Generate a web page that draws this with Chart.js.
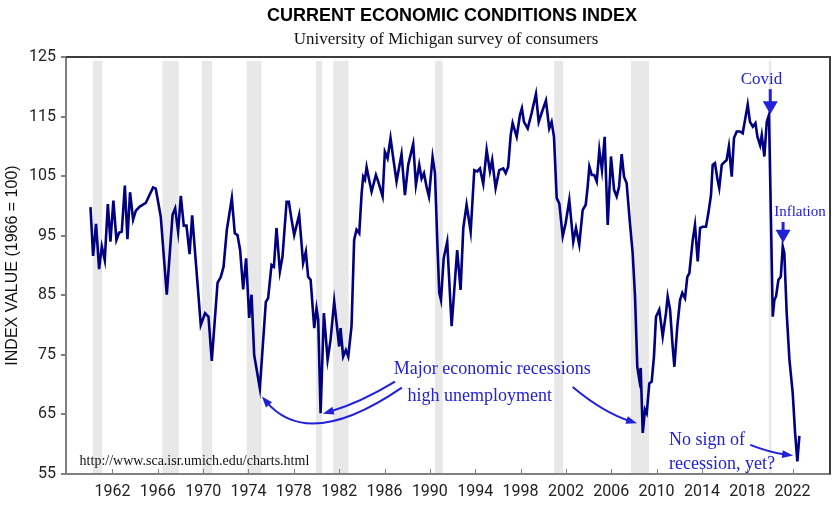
<!DOCTYPE html>
<html lang="en">
<head>
  <meta charset="UTF-8"/>
  <title>Current Economic Conditions Index</title>
  <script src="https://cdn.jsdelivr.net/npm/chart.js"></script>
  <style>
    html, body { margin: 0; padding: 0; background: #fff; }
    #wrap { width: 835px; height: 511px; }
  </style>
</head>
<body>
  <div id="wrap"><canvas id="chart"></canvas></div>

  <script>
    // index values (fractional year, value)
    const years = [
      1960.06,1960.29,1960.55,1960.82,1961.06,1961.32,1961.59,1961.82,1962.08,1962.35,
      1962.58,1962.82,1963.09,1963.32,1963.55,1963.82,1964.06,1964.41,1964.94,1965.58,
      1965.82,1966.26,1966.79,1967.30,1967.53,1967.79,1968.03,1968.29,1968.53,1968.80,
      1969.03,1969.50,1969.79,1970.17,1970.47,1970.76,1971.27,1971.56,1971.80,1972.09,
      1972.53,1972.79,1973.03,1973.26,1973.53,1973.79,1974.06,1974.27,1974.50,1975.00,
      1975.53,1975.73,1976.03,1976.24,1976.47,1976.77,1977.00,1977.36,1977.56,1977.80,
      1978.03,1978.47,1978.82,1979.06,1979.26,1979.48,1979.80,1980.00,1980.15,1980.36,
      1980.65,1980.98,1981.24,1981.56,1981.82,1982.00,1982.12,1982.35,1982.59,1982.80,
      1983.09,1983.32,1983.53,1983.77,1983.98,1984.12,1984.27,1984.42,1984.64,1984.86,
      1985.24,1985.44,1985.83,1986.03,1986.27,1986.53,1986.77,1987.06,1987.50,1987.80,
      1988.09,1988.53,1988.77,1989.06,1989.27,1989.48,1989.71,1989.92,1990.24,1990.45,
      1990.65,1990.83,1990.98,1991.22,1991.53,1991.92,1992.41,1992.71,1992.95,1993.24,
      1993.60,1993.92,1994.18,1994.42,1994.71,1995.01,1995.30,1995.50,1995.80,1996.12,
      1996.47,1996.69,1996.91,1997.13,1997.30,1997.66,1997.95,1998.12,1998.30,1998.63,
      1998.98,1999.36,1999.60,1999.86,2000.24,2000.53,2000.74,2000.95,2001.19,2001.42,
      2001.72,2001.98,2002.30,2002.65,2002.89,2003.18,2003.48,2003.75,2003.92,2004.07,
      2004.28,2004.50,2004.72,2004.95,2005.18,2005.42,2005.69,2005.98,2006.25,2006.48,
      2006.69,2006.92,2007.13,2007.36,2007.65,2007.89,2008.10,2008.30,2008.48,2008.60,
      2008.78,2008.98,2009.13,2009.36,2009.57,2009.77,2009.95,2010.24,2010.54,2010.83,
      2010.98,2011.19,2011.42,2011.57,2011.83,2012.07,2012.27,2012.51,2012.71,2012.89,
      2013.19,2013.39,2013.63,2013.84,2014.07,2014.36,2014.57,2014.80,2014.95,2015.15,
      2015.36,2015.53,2015.75,2015.95,2016.18,2016.38,2016.63,2016.83,2017.07,2017.36,
      2017.60,2017.80,2018.04,2018.24,2018.49,2018.72,2018.90,2019.13,2019.28,2019.51,
      2019.72,2019.92,2020.25,2020.39,2020.54,2020.75,2020.96,2021.13,2021.27,2021.48,
      2021.72,2022.01,2022.22,2022.42,2022.60
    ];
    const values = [
      99.8,91.6,97.0,89.4,93.2,90.9,100.3,94.0,100.9,94.3,
      95.5,95.7,103.4,94.4,102.3,97.7,99.2,99.9,100.5,103.1,
      102.9,98.2,85.1,98.5,99.6,95.7,101.7,96.7,96.7,91.9,
      98.4,87.0,80.0,82.0,81.4,74.0,87.1,88.1,89.8,96.0,
      101.3,95.4,95.1,92.6,86.0,91.2,81.2,85.1,75.0,69.4,
      83.9,84.5,90.1,89.8,96.3,89.0,91.5,100.7,100.7,97.7,
      95.1,98.5,90.4,92.3,88.1,87.6,79.5,82.8,80.9,65.2,
      82.0,74.2,77.5,84.0,79.5,76.4,79.5,74.7,75.8,74.7,
      79.8,94.3,96.0,95.4,102.1,104.9,104.4,106.5,104.4,102.4,
      105.2,104.1,101.6,109.1,108.0,111.4,108.0,104.1,108.7,101.8,
      106.9,110.4,103.5,106.9,104.6,105.5,103.2,101.6,108.2,105.5,
      94.3,85.4,84.2,91.2,94.0,79.8,92.6,85.9,96.3,100.2,
      95.7,106.0,105.8,106.3,103.7,109.4,105.8,107.7,103.0,106.0,
      106.3,105.5,106.6,111.9,113.9,111.6,115.3,116.4,114.1,113.0,
      115.6,118.8,114.1,115.6,117.7,113.0,114.1,111.6,101.3,100.4,
      94.9,97.1,101.0,94.0,96.3,93.5,99.3,100.2,103.2,106.6,
      105.2,105.2,104.1,109.4,106.0,111.6,96.8,108.3,102.7,101.6,
      103.2,108.7,104.9,103.8,97.1,92.1,84.8,73.0,70.8,72.8,
      61.9,65.8,65.2,70.2,70.5,74.7,81.4,82.6,78.1,82.0,
      84.8,82.6,76.4,73.0,79.8,84.2,85.4,84.5,88.1,88.7,
      94.3,96.8,90.7,96.3,96.5,96.5,98.8,101.8,106.9,107.2,
      104.6,103.0,106.9,107.3,107.7,110.0,104.9,111.4,112.5,112.5,
      112.2,114.4,117.0,114.1,113.3,113.9,111.6,110.2,111.9,108.3,
      114.1,115.3,81.4,84.2,84.8,87.6,88.1,93.2,92.1,82.0,
      74.2,68.6,61.9,57.1,61.4
    ];

    // recession bands (start / end year)
    const recStart = [1960.27, 1966.40, 1969.90, 1973.85, 1979.95, 1981.47, 1990.45, 2000.97, 2007.74, 2019.90];
    const recEnd   = [1961.10, 1967.85, 1970.80, 1975.15, 1980.50, 1982.83, 1991.13, 2001.77, 2009.33, 2020.13];

    const xTicks = [1962,1966,1970,1974,1978,1982,1986,1990,1994,1998,2002,2006,2010,2014,2018,2022];
    const yTicks = [55,65,75,85,95,105,115,125];

    const blue = '#2121d9';

    // notes, placed in data units
    const notes = [
      { text: 'Covid', x: 2019.25, y: 121.2, size: 17, align: 'center' },
      { text: 'Inflation', x: 2022.65, y: 99.0, size: 15, align: 'center' },
      { text: 'Major economic recessions', x: 1995.5, y: 72.5, size: 18, align: 'center' },
      { text: 'high unemployment', x: 1994.4, y: 68.1, size: 18, align: 'center' },
      { text: 'No sign of', x: 2011.1, y: 60.7, size: 18, align: 'left' },
      { text: 'recession, yet?', x: 2011.1, y: 56.6, size: 18, align: 'left' }
    ];
    // curved arrows: start, control, tip
    const curves = [
      [[1986.92, 70.5], [1983.9, 67.0], [1980.56, 65.1]],
      [[1987.53, 69.5], [1979.3, 58.8], [1975.18, 68.0]],
      [[2002.6, 69.6], [2005.3, 65.3], [2008.28, 63.5]],
      [[2018.26, 59.9], [2020.0, 58.6], [2022.05, 58.1]]
    ];
    // straight down arrows: x, from, to
    const drops = [
      [2020.03, 119.6, 115.4],
      [2021.16, 97.3, 93.8]
    ];

    function head(ctx, tx, ty, ang, len, wid) {
      ctx.beginPath();
      ctx.moveTo(tx, ty);
      ctx.lineTo(tx - len * Math.cos(ang) + wid / 2 * Math.sin(ang), ty - len * Math.sin(ang) - wid / 2 * Math.cos(ang));
      ctx.lineTo(tx - len * Math.cos(ang) - wid / 2 * Math.sin(ang), ty - len * Math.sin(ang) + wid / 2 * Math.cos(ang));
      ctx.closePath();
      ctx.fill();
    }

    const decor = {
      id: 'decor',
      beforeDatasetsDraw(chart) {
        const { ctx, chartArea: a, scales: { x, y } } = chart;
        ctx.save();
        ctx.fillStyle = '#e8e8e8';
        const top = y.getPixelForValue(124.35);
        recStart.forEach((s, i) => {
          const x0 = x.getPixelForValue(s), x1 = x.getPixelForValue(recEnd[i]);
          ctx.fillRect(x0, top, x1 - x0, a.bottom - 1 - top);
        });
        ctx.restore();
      },
      afterDraw(chart) {
        const { ctx, chartArea: a, scales: { x, y } } = chart;
        const mid = (a.left + a.right) / 2;
        ctx.save();
        // titles
        ctx.textAlign = 'center';
        ctx.textBaseline = 'middle';
        ctx.fillStyle = '#000';
        ctx.font = 'bold 18px "Liberation Sans"';
        ctx.fillText('CURRENT ECONOMIC CONDITIONS INDEX', mid + 4, 16);
        ctx.fillStyle = '#111';
        ctx.font = '17px "Liberation Serif"';
        ctx.fillText('University of Michigan survey of consumers', mid - 2, 40);
        // frame top + right
        ctx.strokeStyle = '#3c3c3c';
        ctx.lineWidth = 2;
        ctx.beginPath();
        ctx.moveTo(a.left, a.top);
        ctx.lineTo(a.right, a.top);
        ctx.lineTo(a.right, a.bottom);
        ctx.stroke();
        // inward x ticks
        ctx.strokeStyle = '#808080';
        ctx.lineWidth = 1;
        xTicks.forEach(t => {
          const px = Math.round(x.getPixelForValue(t)) + 0.5;
          ctx.beginPath();
          ctx.moveTo(px, a.bottom);
          ctx.lineTo(px, a.bottom - 5);
          ctx.stroke();
        });
        // source line
        ctx.fillStyle = '#111';
        ctx.font = '14px "Liberation Serif"';
        ctx.textAlign = 'left';
        ctx.fillText('http://www.sca.isr.umich.edu/charts.html', x.getPixelForValue(1959.1), y.getPixelForValue(57.2));
        // notes
        ctx.fillStyle = blue;
        notes.forEach(n => {
          ctx.font = n.size + 'px "Liberation Serif"';
          ctx.textAlign = n.align;
          ctx.fillText(n.text, x.getPixelForValue(n.x), y.getPixelForValue(n.y));
        });
        ctx.strokeStyle = blue;
        ctx.lineWidth = 2;
        curves.forEach(c => {
          const p = c.map(q => [x.getPixelForValue(q[0]), y.getPixelForValue(q[1])]);
          const ang = Math.atan2(p[2][1] - p[1][1], p[2][0] - p[1][0]);
          const ex = p[2][0] - 7 * Math.cos(ang), ey = p[2][1] - 7 * Math.sin(ang);
          ctx.beginPath();
          ctx.moveTo(p[0][0], p[0][1]);
          ctx.quadraticCurveTo(p[1][0], p[1][1], ex, ey);
          ctx.stroke();
          head(ctx, p[2][0], p[2][1], ang, 11, 8);
        });
        ctx.lineWidth = 3;
        drops.forEach(d => {
          const px = x.getPixelForValue(d[0]);
          const y0 = y.getPixelForValue(d[1]), y1 = y.getPixelForValue(d[2]);
          ctx.beginPath();
          ctx.moveTo(px, y0);
          ctx.lineTo(px, y1 - 8);
          ctx.stroke();
          head(ctx, px, y1, Math.PI / 2, 13, 15);
        });
        ctx.restore();
      }
    };

    Chart.defaults.font.family = 'Roboto';
    Chart.defaults.color = '#222';

    const ctx = document.getElementById('chart').getContext('2d');
    new Chart(ctx, {
      type: 'line',
      data: {
        datasets: [{
          data: years.map((t, i) => ({ x: t, y: values[i] })),
          borderColor: '#000080',
          borderWidth: 2.6,
          pointRadius: 0,
          tension: 0,
          fill: false
        }]
      },
      options: {
        responsive: true,
        maintainAspectRatio: false,
        animation: false,
        layout: { padding: { left: 0, right: 5, top: 57, bottom: 0 } },
        plugins: {
          legend: { display: false },
          tooltip: { enabled: false },
          title: { display: false },
          subtitle: { display: false }
        },
        scales: {
          x: {
            type: 'linear',
            min: 1957.9,
            max: 2025.3,
            afterBuildTicks: s => { s.ticks = xTicks.map(v => ({ value: v })); },
            afterFit: s => { s.height = 37; },
            grid: { display: false, drawTicks: false },
            border: { display: true, color: '#808080', width: 2 },
            ticks: { padding: 8, font: { size: 16 }, color: '#222', callback: v => String(v) }
          },
          y: {
            min: 55,
            max: 125,
            afterBuildTicks: s => { s.ticks = yTicks.map(v => ({ value: v })); },
            afterFit: s => { s.width = 66; },
            grid: { drawOnChartArea: false, drawTicks: true, tickLength: 5, color: '#808080', lineWidth: 2 },
            border: { display: true, color: '#808080', width: 2 },
            ticks: { padding: 5, font: { size: 16 }, color: '#222' },
            title: {
              display: true,
              text: 'INDEX VALUE (1966 = 100)',
              color: '#111',
              font: { family: '"Liberation Sans"', size: 16 },
              padding: { top: 3, bottom: 0 }
            }
          }
        }
      },
      plugins: [decor]
    });
  </script>
</body>
</html>
